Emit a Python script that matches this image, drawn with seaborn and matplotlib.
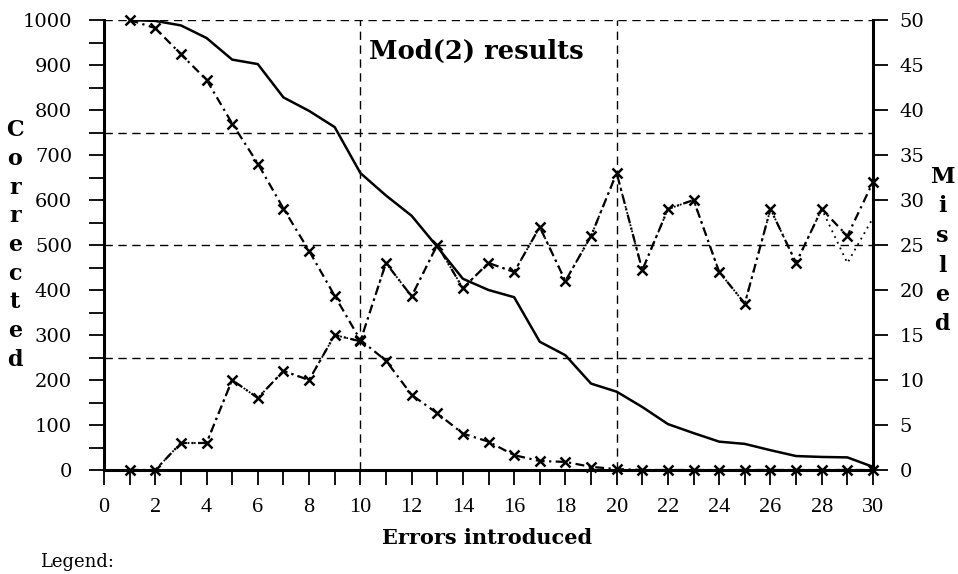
import pandas as pd
import matplotlib.pyplot as plt
import seaborn as sns

# values
errors = list(range(1, 31))
corrected_plain = [1000, 998, 988, 960, 912, 902, 828, 798, 762, 660,
                   610, 565, 496, 425, 400, 384, 285, 255, 192, 174,
                   140, 102, 82, 63, 58, 44, 31, 29, 28, 7]
corrected_marked = [1000, 982, 924, 867, 770, 681, 581, 487, 387, 289,
                    243, 167, 126, 81, 63, 33, 20, 18, 7, 2,
                    0, 0, 0, 0, 0, 0, 0, 0, 0, 0]
misled_dashed = [0, 0, 3, 3, 10, 8, 11, 10, 15, 14.3,
                 23, 19.3, 25, 20.2, 23, 22, 27, 21, 26, 33,
                 22.2, 29, 30, 22, 18.5, 29, 23, 29, 26, 32]
misled_dotted = [0, 0, 3, 3, 10, 8, 11, 10, 15, 14.3,
                 23, 19.3, 25, 20.2, 23, 22, 27, 21, 26, 33,
                 22.2, 29, 30, 22, 18.5, 29, 23, 29, 23, 28]

x_ticks = list(range(0, 31, 2))
left_ticks = list(range(0, 1001, 100))
right_ticks = list(range(0, 51, 5))
grid_y = [250, 500, 750, 1000]
grid_x = [10, 20]

df = pd.DataFrame({
    "errors": errors,
    "corrected_plain": corrected_plain,
    "corrected_marked": corrected_marked,
    "misled_dashed": misled_dashed,
    "misled_dotted": misled_dotted,
})

sns.set_style("ticks")
plt.rcParams['font.family'] = ['DejaVu Serif']
for key in ("text.color", "axes.labelcolor", "xtick.color", "ytick.color",
            "axes.edgecolor"):
    plt.rcParams[key] = "black"

W, H = 958, 574
fig = plt.figure(figsize=(W / 100, H / 100), dpi=100)
ax = fig.add_axes([104 / W, 1 - 470 / H, (873 - 104) / W, 450 / H])
ax2 = ax.twinx()

# grid first so the data sits on top
for gy in grid_y:
    ax.axhline(gy, color="black", lw=1.0, ls=(0, (6, 4)), zorder=1)
for gx in grid_x:
    ax.axvline(gx, color="black", lw=1.0, ls=(0, (6, 4)), zorder=1)

mk = dict(marker="x", markersize=7, markeredgewidth=1.8,
          markeredgecolor="black", clip_on=False)

sns.lineplot(data=df, x="errors", y="corrected_plain", ax=ax,
             color="black", lw=1.8, zorder=3)
sns.lineplot(data=df, x="errors", y="corrected_marked", ax=ax,
             color="black", lw=1.6, linestyle=(0, (4, 2, 1, 2)), zorder=3, **mk)
sns.lineplot(data=df, x="errors", y="misled_dotted", ax=ax2,
             color="black", lw=1.3, linestyle=(0, (1, 2.5)), zorder=3)
sns.lineplot(data=df, x="errors", y="misled_dashed", ax=ax2,
             color="black", lw=1.6, linestyle=(0, (4, 2, 1, 2)), zorder=3, **mk)

ax.set_xlim(0, 30)
ax.set_ylim(0, 1000)
ax2.set_ylim(0, 50)

ax.set_xticks(x_ticks)
ax.set_xticks(range(0, 31), minor=True)
ax.set_yticks(left_ticks)
ax.set_yticks(range(0, 1001, 50), minor=True)
ax2.set_yticks(right_ticks)

ax.tick_params(axis="x", which="both", direction="out", length=11, width=1.3,
               labelsize=16, pad=9)
for lab in ax.get_xticklabels():
    lab.set_family("Liberation Serif")
ax.tick_params(axis="y", which="both", direction="out", length=11, width=1.3,
               labelsize=14, pad=12)
ax2.tick_params(axis="y", direction="out", length=11, width=1.3,
                labelsize=14, pad=8)

ax.set_xlabel("")
ax.set_ylabel("")
ax2.set_ylabel("")

for a in (ax, ax2):
    a.spines["top"].set_visible(False)
ax.spines["right"].set_visible(False)
ax2.spines["left"].set_visible(False)
ax2.spines["bottom"].set_visible(False)
for s in ("left", "bottom"):
    ax.spines[s].set_linewidth(2.2)
ax2.spines["right"].set_linewidth(2.2)

ax.text(10.35, 930, "Mod(2) results", fontsize=18.5, fontweight="bold",
        ha="left", va="center", zorder=4)

# stacked axis titles, one letter per row
for i, ch in enumerate("Corrected"):
    fig.text(15 / W, 1 - (130 + i * 28.75) / H, ch, fontsize=16,
             fontweight="bold", ha="center", va="center")
for i, ch in enumerate("Misled"):
    fig.text(942 / W, 1 - (177 + i * 29.5) / H, ch, fontsize=16,
             fontweight="bold", ha="center", va="center")

fig.text(487 / W, 1 - 538 / H, "Errors introduced", fontsize=15,
         fontweight="bold", ha="center", va="center")
fig.text(40 / W, 1 - 553 / H, "Legend:", fontsize=13, ha="left", va="top")

fig.savefig("out.png", dpi=100)
